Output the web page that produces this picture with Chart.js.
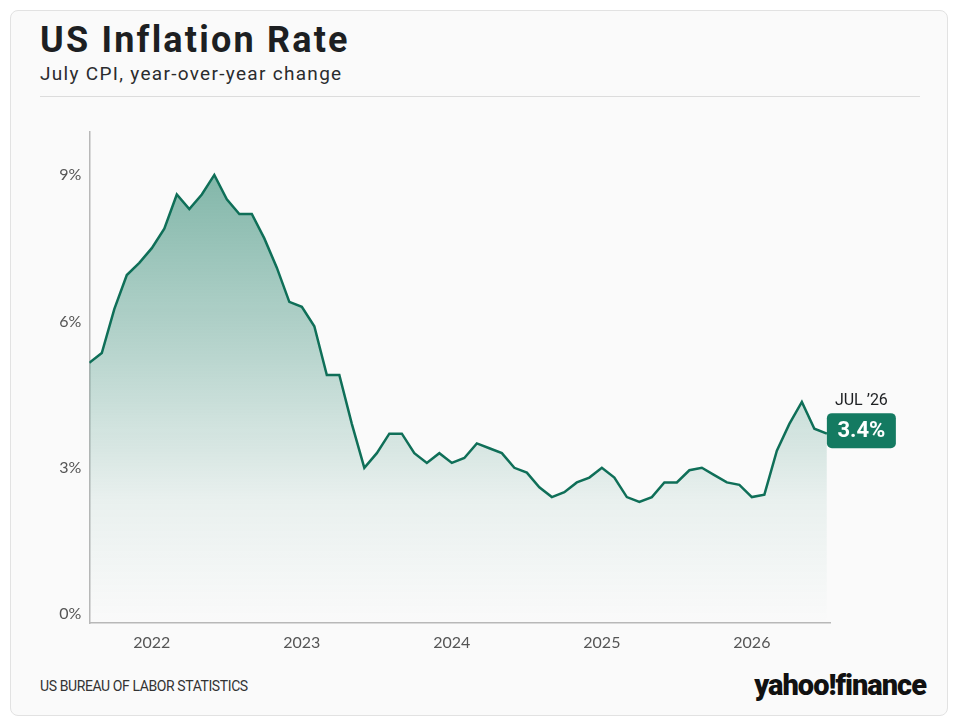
<!DOCTYPE html>
<html>
<head>
<meta charset="utf-8">
<script src="https://cdn.jsdelivr.net/npm/chart.js@4.4.1/dist/chart.umd.min.js"></script>
<style>
  html, body { margin: 0; padding: 0; background: #ffffff; }
  body { width: 960px; height: 726px; position: relative; overflow: hidden; font-family: "Roboto", "Liberation Sans", sans-serif; }
  .card { position: absolute; left: 10px; top: 10px; width: 936px; height: 704px; background: #fafafa; border: 1px solid #e2e2e2; border-radius: 8px; }
  .title { position: absolute; left: 40px; top: 19px; font-size: 36px; font-weight: 700; color: #1d1f22; letter-spacing: 2.2px; }
  .subtitle { position: absolute; left: 40px; top: 62px; font-size: 19px; color: #2a2c2e; letter-spacing: 1.3px; }
  .rule { position: absolute; left: 40px; top: 96px; width: 880px; height: 1px; background: #dcdcdc; }
  .source { position: absolute; left: 40px; top: 678px; font-family: "Roboto", sans-serif; font-size: 14px; color: #333; letter-spacing: -0.4px; }
  .logo { position: absolute; right: 34px; top: 668px; font-family: "Roboto", sans-serif; font-size: 29px; font-weight: 900; color: #111; letter-spacing: -1px; }
  canvas { position: absolute; left: 0; top: 0; }
</style>
</head>
<body>
<div class="card"></div>
<div class="title">US Inflation Rate</div>
<div class="subtitle">July CPI, year-over-year change</div>
<div class="rule"></div>
<div class="source">US BUREAU OF LABOR STATISTICS</div>
<div class="logo">yahoo!finance</div>
<canvas id="inflationChart" width="960" height="726"></canvas>
<script>
// monthly CPI, year-over-year %, Aug 2021 .. Jul 2026
const months = [
  'Aug 2021', 'Sep 2021', 'Oct 2021', 'Nov 2021', 'Dec 2021',
  'Jan 2022', 'Feb 2022', 'Mar 2022', 'Apr 2022', 'May 2022', 'Jun 2022',
  'Jul 2022', 'Aug 2022', 'Sep 2022', 'Oct 2022', 'Nov 2022', 'Dec 2022',
  'Jan 2023', 'Feb 2023', 'Mar 2023', 'Apr 2023', 'May 2023', 'Jun 2023',
  'Jul 2023', 'Aug 2023', 'Sep 2023', 'Oct 2023', 'Nov 2023', 'Dec 2023',
  'Jan 2024', 'Feb 2024', 'Mar 2024', 'Apr 2024', 'May 2024', 'Jun 2024',
  'Jul 2024', 'Aug 2024', 'Sep 2024', 'Oct 2024', 'Nov 2024', 'Dec 2024',
  'Jan 2025', 'Feb 2025', 'Mar 2025', 'Apr 2025', 'May 2025', 'Jun 2025',
  'Jul 2025', 'Aug 2025', 'Sep 2025', 'Oct 2025', 'Nov 2025', 'Dec 2025',
  'Jan 2026', 'Feb 2026', 'Mar 2026', 'Apr 2026', 'May 2026', 'Jun 2026',
  'Jul 2026'
];
const cpiValues = [
  5.15, 5.35, 6.25, 6.95, 7.2,
  7.5, 7.9, 8.6, 8.3, 8.6, 9.0, 8.5, 8.2, 8.2, 7.7, 7.1, 6.4,
  6.3, 5.9, 4.9, 4.9, 3.9, 3.0, 3.3, 3.7, 3.7, 3.3, 3.1, 3.3,
  3.1, 3.2, 3.5, 3.4, 3.3, 3.0, 2.9, 2.6, 2.4, 2.5, 2.7, 2.8,
  3.0, 2.8, 2.4, 2.3, 2.4, 2.7, 2.7, 2.95, 3.0, 2.85, 2.7, 2.65,
  2.4, 2.45, 3.35, 3.9, 4.35, 3.8, 3.7
];
const yTicks = [0, 3, 6, 9];
const calloutDate = "JUL \u201926";
const calloutValue = '3.4%';

const lineColor = '#0f6f58';
const axisFont = { family: 'Lato, "Open Sans", sans-serif', size: 16 };

const callout = {
    id: 'callout',
    afterDatasetsDraw(chart) {
        const meta = chart.getDatasetMeta(0);
        const pt = meta.data[meta.data.length - 1];
        const ctx = chart.ctx;
        const w = 69, h = 35;
        const bx = pt.x, by = pt.y - 3 - h / 2;
        ctx.save();
        ctx.fillStyle = '#147a61';
        ctx.beginPath();
        ctx.roundRect(bx, by, w, h, 5);
        ctx.fill();
        ctx.fillStyle = '#ffffff';
        ctx.font = 'bold 22px Roboto, sans-serif';
        ctx.textAlign = 'center';
        ctx.textBaseline = 'middle';
        ctx.fillText(calloutValue, bx + w / 2, by + h / 2 + 1);
        ctx.fillStyle = '#1d1f22';
        ctx.font = '16px Roboto, sans-serif';
        ctx.textBaseline = 'alphabetic';
        ctx.fillText(calloutDate, bx + w / 2, by - 8);
        ctx.restore();
    }
};

const ctx = document.getElementById('inflationChart').getContext('2d');
new Chart(ctx, {
    type: 'line',
    data: {
        datasets: [{
            label: 'CPI YoY',
            data: cpiValues.map((v, i) => ({ x: i, y: v })),
            borderColor: lineColor,
            borderWidth: 2.5,
            pointRadius: 0,
            tension: 0,
            fill: 'start',
            backgroundColor: function(context) {
                const area = context.chart.chartArea;
                if (!area) return 'rgba(15,118,92,0.3)';
                const g = context.chart.ctx.createLinearGradient(0, area.top, 0, area.bottom);
                g.addColorStop(0, 'rgba(15,118,92,0.56)');
                g.addColorStop(0.45, 'rgba(15,118,92,0.28)');
                g.addColorStop(0.75, 'rgba(15,118,92,0.07)');
                g.addColorStop(1, 'rgba(15,118,92,0.0)');
                return g;
            }
        }]
    },
    options: {
        responsive: false,
        animation: false,
        events: [],
        layout: { padding: { left: 40, top: 132, right: 130, bottom: 63 } },
        plugins: { legend: { display: false }, tooltip: { enabled: false } },
        scales: {
            x: {
                type: 'linear',
                min: 0,
                max: 59.25,
                grid: { display: false, drawTicks: false },
                border: { display: true, color: '#b8b8b8', width: 1.5 },
                afterFit: s => { s.height = 40; },
                afterBuildTicks: axis => {
                    axis.ticks = months
                        .map((m, i) => ({ m, i }))
                        .filter(o => o.m.startsWith('Jan'))
                        .map(o => ({ value: o.i }));
                },
                ticks: {
                    padding: 10,
                    color: '#555',
                    font: axisFont,
                    maxRotation: 0,
                    autoSkip: false,
                    callback: v => months[v].slice(4)
                }
            },
            y: {
                min: -0.18,
                max: 9.88,
                grid: { display: false, drawTicks: false },
                border: { display: true, color: '#b8b8b8', width: 1.5 },
                afterFit: s => { s.width = 49.3; },
                afterBuildTicks: axis => { axis.ticks = yTicks.map(v => ({ value: v })); },
                ticks: {
                    padding: 8,
                    color: '#555',
                    font: axisFont,
                    callback: v => v + '%'
                }
            }
        }
    },
    plugins: [callout]
});
</script>
</body>
</html>
